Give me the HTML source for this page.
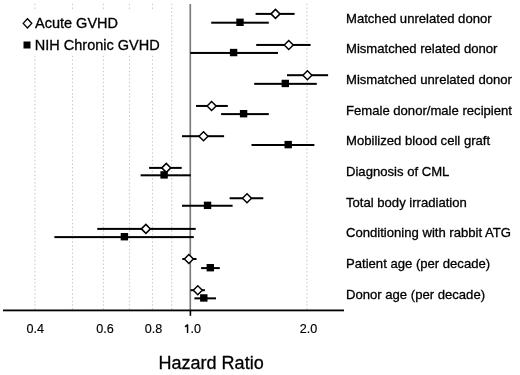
<!DOCTYPE html><html><head><meta charset="utf-8"><style>html,body{margin:0;padding:0;background:#fff;overflow:hidden}svg{display:block;will-change:transform}text{font-family:"Liberation Sans",sans-serif;fill:#000;stroke:#000;stroke-width:0.3px}</style></head><body>
<svg width="520" height="375" viewBox="0 0 520 375">
<rect width="520" height="375" fill="#fff"/>
<g stroke="#cccccc" stroke-width="1.1" stroke-dasharray="1.5 2.21"><line x1="34.90" y1="3.85" x2="34.90" y2="310" /><line x1="72.50" y1="3.85" x2="72.50" y2="310" /><line x1="103.40" y1="3.85" x2="103.40" y2="310" /><line x1="129.50" y1="3.85" x2="129.50" y2="310" /><line x1="152.50" y1="3.85" x2="152.50" y2="310" /><line x1="171.70" y1="3.85" x2="171.70" y2="310" /><line x1="306.90" y1="3.85" x2="306.90" y2="310" /></g>
<rect x="15" y="10.5" width="150" height="43.5" fill="#fff"/>
<rect x="189.45" y="4" width="1.65" height="306" fill="#7a7a7a"/>
<rect x="3" y="309.5" width="341" height="1.8" fill="#000"/>
<rect x="189.6" y="310" width="1.6" height="5.8" fill="#000"/>
<rect x="255.60" y="12.90" width="39.00" height="2" fill="#000"/>
<path d="M271.00 13.90L275.50 9.40L280.00 13.90L275.50 18.40Z" fill="#fff" stroke="#000" stroke-width="1.5"/>
<rect x="211.20" y="21.70" width="57.60" height="2" fill="#000"/>
<rect x="236.30" y="18.60" width="7.4" height="7.4" fill="#000"/>
<text x="346" y="22.70" font-size="13.1">Matched unrelated donor</text>
<rect x="256.20" y="43.95" width="54.40" height="2" fill="#000"/>
<path d="M284.25 44.95L288.75 40.45L293.25 44.95L288.75 49.45Z" fill="#fff" stroke="#000" stroke-width="1.5"/>
<rect x="190.25" y="51.95" width="87.75" height="2" fill="#000"/>
<rect x="229.90" y="48.85" width="7.4" height="7.4" fill="#000"/>
<text x="346" y="53.35" font-size="13.1">Mismatched related donor</text>
<rect x="287.00" y="74.20" width="41.10" height="2" fill="#000"/>
<path d="M302.90 75.20L307.40 70.70L311.90 75.20L307.40 79.70Z" fill="#fff" stroke="#000" stroke-width="1.5"/>
<rect x="254.20" y="82.85" width="62.60" height="2" fill="#000"/>
<rect x="281.60" y="79.75" width="7.4" height="7.4" fill="#000"/>
<text x="346" y="84.00" font-size="13.1">Mismatched unrelated donor</text>
<rect x="196.00" y="104.95" width="31.80" height="2" fill="#000"/>
<path d="M207.10 105.95L211.60 101.45L216.10 105.95L211.60 110.45Z" fill="#fff" stroke="#000" stroke-width="1.5"/>
<rect x="221.10" y="113.10" width="47.70" height="2" fill="#000"/>
<rect x="239.90" y="110.00" width="7.4" height="7.4" fill="#000"/>
<text x="346" y="114.65" font-size="13.1">Female donor/male recipient</text>
<rect x="182.00" y="135.20" width="42.10" height="2" fill="#000"/>
<path d="M199.00 136.20L203.50 131.70L208.00 136.20L203.50 140.70Z" fill="#fff" stroke="#000" stroke-width="1.5"/>
<rect x="251.50" y="144.00" width="62.90" height="2" fill="#000"/>
<rect x="284.50" y="140.90" width="7.4" height="7.4" fill="#000"/>
<text x="346" y="145.30" font-size="13.1">Mobilized blood cell graft</text>
<rect x="149.10" y="166.90" width="32.60" height="2" fill="#000"/>
<path d="M161.80 167.90L166.30 163.40L170.80 167.90L166.30 172.40Z" fill="#fff" stroke="#000" stroke-width="1.5"/>
<rect x="140.60" y="174.30" width="50.20" height="2" fill="#000"/>
<rect x="160.40" y="171.20" width="7.4" height="7.4" fill="#000"/>
<text x="346" y="175.95" font-size="13.1">Diagnosis of CML</text>
<rect x="229.60" y="197.25" width="33.70" height="2" fill="#000"/>
<path d="M242.50 198.25L247.00 193.75L251.50 198.25L247.00 202.75Z" fill="#fff" stroke="#000" stroke-width="1.5"/>
<rect x="182.00" y="204.75" width="50.60" height="2" fill="#000"/>
<rect x="203.85" y="201.65" width="7.4" height="7.4" fill="#000"/>
<text x="346" y="206.60" font-size="13.1">Total body irradiation</text>
<rect x="97.25" y="227.90" width="98.45" height="2" fill="#000"/>
<path d="M141.40 228.90L145.90 224.40L150.40 228.90L145.90 233.40Z" fill="#fff" stroke="#000" stroke-width="1.5"/>
<rect x="54.40" y="236.10" width="139.40" height="2" fill="#000"/>
<rect x="120.70" y="233.00" width="7.4" height="7.4" fill="#000"/>
<text x="346" y="237.25" font-size="13.1">Conditioning with rabbit ATG</text>
<rect x="182.30" y="258.00" width="14.20" height="2" fill="#000"/>
<path d="M184.35 259.00L188.85 254.50L193.35 259.00L188.85 263.50Z" fill="#fff" stroke="#000" stroke-width="1.5"/>
<rect x="201.10" y="267.10" width="18.70" height="2" fill="#000"/>
<rect x="206.60" y="264.00" width="7.4" height="7.4" fill="#000"/>
<text x="346" y="267.90" font-size="13.1">Patient age (per decade)</text>
<rect x="190.50" y="289.20" width="14.40" height="2" fill="#000"/>
<path d="M193.30 290.20L197.80 285.70L202.30 290.20L197.80 294.70Z" fill="#fff" stroke="#000" stroke-width="1.5"/>
<rect x="194.40" y="297.35" width="21.60" height="2" fill="#000"/>
<rect x="200.10" y="294.25" width="7.4" height="7.4" fill="#000"/>
<text x="346" y="298.55" font-size="13.1">Donor age (per decade)</text>
<path d="M23.15 23.35L27.45 18.75L31.75 23.35L27.45 27.95Z" fill="#fff" stroke="#000" stroke-width="1.35"/>
<text x="35" y="28.3" font-size="14.5">Acute GVHD</text>
<rect x="23.50" y="41.50" width="7.0" height="7.0" fill="#000"/>
<text x="34.8" y="49.6" font-size="14.5">NIH Chronic GVHD</text>
<text x="190.6" y="333" font-size="12.6" style="stroke-width:0.15px">.0</text>
<path d="M187.55 333V324.4M187.7 324.5L185.1 326.9" stroke="#000" stroke-width="1.45" fill="none"/>
<text x="35.20" y="333" font-size="12.6" text-anchor="middle" style="stroke-width:0.15px">0.4</text>
<text x="105.00" y="333" font-size="12.6" text-anchor="middle" style="stroke-width:0.15px">0.6</text>
<text x="153.40" y="333" font-size="12.6" text-anchor="middle" style="stroke-width:0.15px">0.8</text>
<text x="308.50" y="333" font-size="12.6" text-anchor="middle" style="stroke-width:0.15px">2.0</text>
<text x="158.6" y="368.8" font-size="18">Hazard Ratio</text>
</svg></body></html>
